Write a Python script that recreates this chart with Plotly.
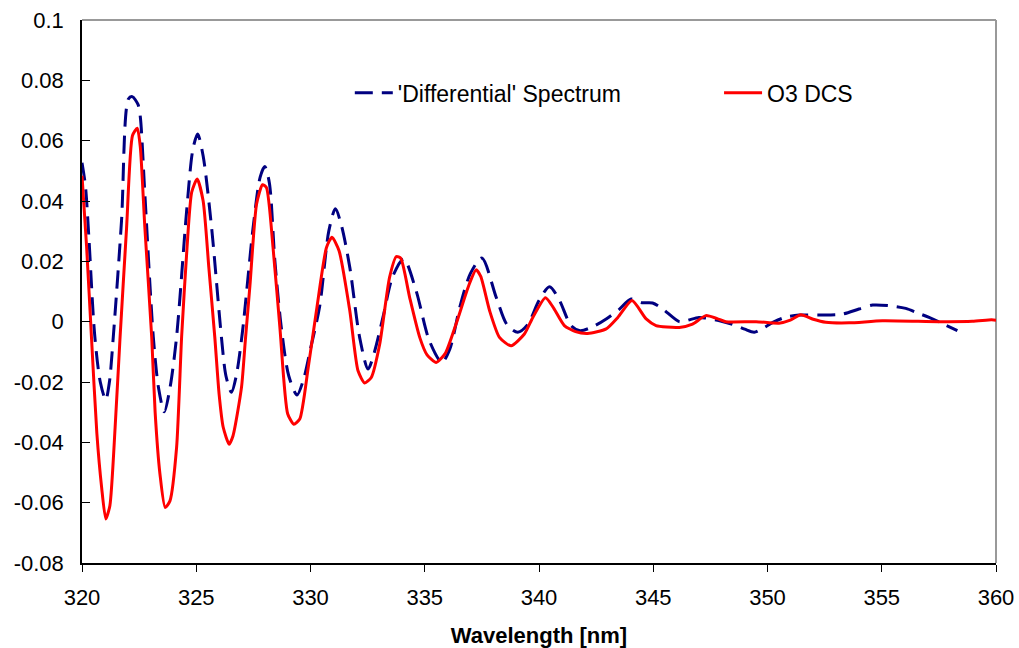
import plotly.graph_objects as go

# 'Differential' spectrum (wavelength nm, value)
diff_wl = [320.0, 320.15, 320.3, 320.55, 320.8, 321.04, 321.2, 321.37, 321.73, 322.03,
           322.2, 322.45, 322.55, 322.75, 323.12, 323.35, 323.6, 323.85, 324.14, 324.58,
           324.85, 325.06, 325.3, 325.67, 326.1, 326.3, 326.54, 326.75, 327.02, 327.49,
           327.8, 328.0, 328.2, 328.44, 328.73, 329.05, 329.41, 329.7, 330.0, 330.4,
           330.8, 331.09, 331.35, 331.72, 332.15, 332.52, 332.8, 333.17, 333.6, 334.08,
           334.62, 335.2, 335.75, 336.1, 336.53, 337.0, 337.5, 338.13, 338.6, 339.07,
           339.5, 340.0, 340.46, 340.9, 341.4, 341.8, 342.4, 342.94, 343.5, 344.03,
           344.5, 344.97, 345.4, 346.14, 346.43, 347.0, 347.3, 347.9, 348.5, 349.0,
           349.42, 349.8, 350.3, 350.8, 351.39, 352.3, 353.28, 354.0, 354.6, 355.3,
           356.05, 356.6, 357.07, 357.7, 358.31]
diff_val = [0.0527, 0.045, 0.028, -0.004, -0.020, -0.0259, -0.020, -0.005, 0.0335, 0.0738,
            0.0746, 0.072, 0.068, 0.0424, -0.005, -0.022, -0.0299, -0.022, -0.005, 0.0368,
            0.057, 0.0622, 0.055, 0.0313, -0.005, -0.018, -0.0234, -0.018, -0.0035, 0.0313,
            0.048, 0.0514, 0.046, 0.0202, -0.0024, -0.018, -0.0243, -0.019, -0.009, 0.005,
            0.030, 0.0374, 0.032, 0.018, -0.0052, -0.0157, -0.010, 0.0014, 0.015, 0.0208,
            0.0103, -0.0063, -0.0135, -0.009, 0.0047, 0.016, 0.0211, 0.008, -0.001, -0.0035,
            -0.001, 0.007, 0.0116, 0.007, -0.0013, -0.003, -0.0015, 0.0009, 0.004, 0.0075,
            0.0063, 0.0062, 0.0043, 0.0, 0.0003, 0.0014, 0.0012, 0.0003, -0.001, -0.0025,
            -0.0035, -0.0022, 0.0, 0.0015, 0.0022, 0.0022, 0.0025, 0.0042, 0.0055, 0.0053,
            0.0044, 0.0028, 0.0014, -0.0008, -0.003]

# O3 differential cross section
o3_wl = [320.0, 320.2, 320.42, 320.65, 320.86, 321.04, 321.22, 321.45, 321.66, 321.95,
         322.21, 322.42, 322.55, 322.75, 323.05, 323.2, 323.41, 323.64, 323.85, 324.14,
         324.36, 324.6, 324.8, 325.04, 325.3, 325.55, 325.81, 326.0, 326.18, 326.44,
         326.61, 326.98, 327.15, 327.35, 327.64, 327.9, 328.07, 328.36, 328.66, 329.0,
         329.27, 329.53, 329.9, 330.26, 330.7, 330.94, 331.25, 331.72, 332.08, 332.37,
         332.66, 333.03, 333.46, 333.76, 333.95, 334.34, 334.78, 335.1, 335.5, 335.9,
         336.37, 336.95, 337.25, 337.45, 337.84, 338.27, 338.78, 339.36, 339.73, 340.28,
         340.6, 341.11, 341.6, 342.13, 342.94, 343.45, 344.07, 344.69, 345.12, 345.6,
         346.14, 346.72, 347.3, 347.8, 348.17, 349.5, 350.5, 351.0, 351.46, 352.0,
         352.55, 353.57, 355.03, 357.5, 358.96, 359.8, 360.0]
o3_val = [0.0484, 0.025, -0.006, -0.037, -0.055, -0.0654, -0.061, -0.035, -0.006, 0.031,
          0.0617, 0.0641, 0.058, 0.0313, -0.005, -0.030, -0.0504, -0.0616, -0.0594, -0.0417,
          -0.005, 0.025, 0.0429, 0.0473, 0.0401, 0.018, -0.005, -0.024, -0.035, -0.0406,
          -0.0378, -0.0218, -0.006, 0.012, 0.039, 0.0454, 0.0445, 0.0246, -0.0019, -0.0305,
          -0.034, -0.0323, -0.0152, 0.0036, 0.0246, 0.028, 0.0235, 0.0036, -0.0163, -0.0203,
          -0.0185, -0.0074, 0.0147, 0.0216, 0.021, 0.008, -0.0052, -0.011, -0.0135, -0.0105,
          -0.0008, 0.0125, 0.0172, 0.015, 0.0036, -0.0052, -0.008, -0.0041, 0.0014, 0.0079,
          0.005, -0.0013, -0.0033, -0.0039, -0.0024, 0.0014, 0.007, 0.0009, -0.0013, -0.0018,
          -0.0019, -0.0008, 0.002, 0.001, 0.0, 0.0, -0.0005, 0.0005, 0.0023, 0.0008,
          -0.0002, -0.0004, 0.0003, 0.0, 0.0001, 0.0006, 0.0005]

x_ticks = [320, 325, 330, 335, 340, 345, 350, 355, 360]
y_ticks = [0.1, 0.08, 0.06, 0.04, 0.02, 0, -0.02, -0.04, -0.06, -0.08]
y_tick_text = ["0.1", "0.08", "0.06", "0.04", "0.02", "0", "-0.02", "-0.04", "-0.06", "-0.08"]

FONT = "Arial, Liberation Sans, sans-serif"
FS = 22

fig = go.Figure()
fig.add_trace(go.Scatter(
    x=diff_wl, y=diff_val, mode="lines", name="'Differential' Spectrum", legend="legend",
    line=dict(color="#000080", width=3, dash="18px,9px", shape="spline", smoothing=0.8),
))
fig.add_trace(go.Scatter(
    x=o3_wl, y=o3_val, mode="lines", name="O3 DCS", legend="legend2",
    line=dict(color="#FF0000", width=3, shape="spline", smoothing=0.6),
))

# grey frame on the top and right sides of the plot area
fig.add_shape(type="line", xref="paper", yref="paper", x0=0, x1=1, y0=1, y1=1,
              line=dict(color="#999999", width=2), layer="below")
fig.add_shape(type="line", xref="paper", yref="paper", x0=1, x1=1, y0=0, y1=1,
              line=dict(color="#999999", width=2), layer="below")

legend_style = dict(
    orientation="h", yanchor="middle", xanchor="left", y=0.866,
    font=dict(family=FONT, size=23, color="black"),
    bgcolor="rgba(0,0,0,0)", borderwidth=0, itemwidth=38,
)

fig.update_layout(
    width=1019, height=648,
    margin=dict(l=82, r=23, t=20, b=85, autoexpand=False),
    paper_bgcolor="white", plot_bgcolor="white",
    font=dict(family=FONT, size=FS, color="black"),
    showlegend=True,
    legend=dict(x=0.293, **legend_style),
    legend2=dict(x=0.697, **legend_style),
    xaxis=dict(
        range=[320, 360], tickvals=x_ticks, ticktext=[str(v) for v in x_ticks],
        ticks="outside", ticklen=7, tickcolor="black", tickwidth=1,
        showline=True, linecolor="black", linewidth=1.5,
        showgrid=False, zeroline=False, automargin=False,
        tickfont=dict(family=FONT, size=FS), ticklabelstandoff=7,
        title=dict(text="<b>Wavelength [nm]</b>", font=dict(family=FONT, size=FS), standoff=24),
    ),
    yaxis=dict(
        range=[-0.08, 0.1], tickvals=y_ticks, ticktext=y_tick_text,
        ticks="inside", ticklen=8, tickcolor="black", tickwidth=1,
        showline=True, linecolor="black", linewidth=1.5,
        showgrid=False, zeroline=False, automargin=False,
        tickfont=dict(family=FONT, size=FS), ticklabelstandoff=12,
    ),
)

fig.write_html("out.html")
